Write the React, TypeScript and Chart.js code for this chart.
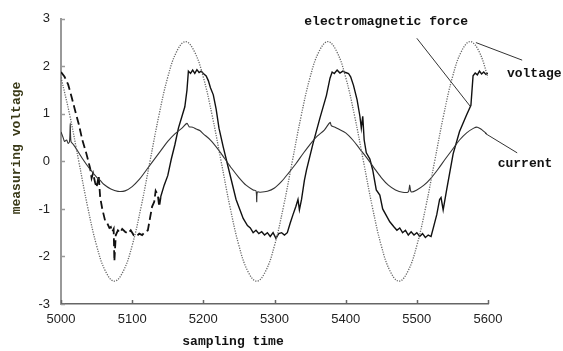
import { useEffect, useRef } from "react";
import { Chart, registerables } from "chart.js";
Chart.register(...registerables);

const xTicks = [5000, 5100, 5200, 5300, 5400, 5500, 5600];
const yTicks = [-3, -2, -1, 0, 1, 2, 3];

const voltageX = [5000, 5012.5, 5025, 5037.5, 5050, 5062.5, 5075, 5087.5, 5100, 5112.5, 5125, 5137.5, 5150, 5162.5, 5175, 5187.5, 5200, 5212.5, 5225, 5237.5, 5250, 5262.5, 5275, 5287.5, 5300, 5312.5, 5325, 5337.5, 5350, 5362.5, 5375, 5387.5, 5400, 5412.5, 5425, 5437.5, 5450, 5462.5, 5475, 5487.5, 5500, 5512.5, 5525, 5537.5, 5550, 5562.5, 5575, 5587.5, 5600];
const voltageY = [1.77, 0.96, 0, -0.96, -1.77, -2.31, -2.52, -2.31, -1.77, -0.96, 0, 0.96, 1.77, 2.31, 2.52, 2.31, 1.77, 0.96, 0, -0.96, -1.77, -2.31, -2.52, -2.31, -1.77, -0.96, 0, 0.96, 1.77, 2.31, 2.52, 2.31, 1.77, 0.96, 0, -0.96, -1.77, -2.31, -2.52, -2.31, -1.77, -0.96, 0, 0.96, 1.77, 2.31, 2.52, 2.31, 1.77];

const currentX = [5000, 5003, 5005, 5008, 5010, 5012, 5013, 5014, 5017, 5020, 5030, 5040, 5050, 5055, 5060, 5070, 5080, 5090, 5100, 5110, 5120, 5130, 5140, 5150, 5160, 5170, 5177, 5180, 5185, 5190, 5195, 5200, 5210, 5220, 5230, 5240, 5250, 5260, 5270, 5274, 5275, 5276, 5280, 5290, 5300, 5310, 5320, 5330, 5340, 5350, 5360, 5370, 5378, 5380, 5385, 5390, 5400, 5410, 5420, 5430, 5440, 5450, 5460, 5470, 5480, 5488, 5490, 5492, 5500, 5510, 5520, 5530, 5540, 5550, 5560, 5570, 5580, 5585, 5590, 5595, 5598];
const currentY = [0.62, 0.50, 0.42, 0.45, 0.38, 0.42, 0.80, 0.42, 0.36, 0.30, 0.06, -0.15, -0.33, -0.40, -0.48, -0.58, -0.63, -0.62, -0.53, -0.38, -0.18, 0.02, 0.22, 0.42, 0.58, 0.70, 0.80, 0.73, 0.72, 0.68, 0.65, 0.58, 0.45, 0.27, 0.06, -0.15, -0.34, -0.50, -0.60, -0.62, -0.85, -0.64, -0.65, -0.63, -0.56, -0.42, -0.24, -0.05, 0.16, 0.36, 0.53, 0.66, 0.82, 0.75, 0.72, 0.68, 0.60, 0.45, 0.26, 0.07, -0.14, -0.34, -0.50, -0.60, -0.65, -0.64, -0.50, -0.64, -0.60, -0.50, -0.35, -0.16, 0.05, 0.25, 0.45, 0.60, 0.70, 0.72, 0.68, 0.62, 0.58];

const emfDashX = [5000, 5005, 5010, 5015, 5020, 5025, 5030, 5035, 5038, 5041, 5043, 5045, 5048, 5050, 5053, 5055, 5058, 5062, 5065, 5068, 5070, 5072, 5074, 5075, 5077, 5080, 5083, 5086, 5090, 5094, 5098, 5102, 5106, 5110, 5114, 5118, 5122, 5125, 5128, 5131, 5133, 5136, 5138, 5140];
const emfDashY = [1.88, 1.78, 1.62, 1.35, 1.06, 0.78, 0.45, 0.20, 0.03, -0.15, -0.35, -0.25, -0.45, -0.55, -0.30, -0.75, -1.00, -1.25, -1.30, -1.40, -1.38, -1.48, -1.42, -2.10, -1.55, -1.45, -1.50, -1.42, -1.48, -1.52, -1.45, -1.55, -1.58, -1.52, -1.55, -1.48, -1.45, -1.20, -0.95, -0.85, -0.62, -0.70, -0.95, -0.75];

const emfX = [5140, 5145, 5150, 5155, 5160, 5165, 5170, 5174, 5177, 5179, 5182, 5185, 5188, 5191, 5194, 5197, 5200, 5204, 5207, 5210, 5214, 5218, 5222, 5228, 5237, 5246, 5256, 5262, 5266, 5270, 5274, 5278, 5282, 5286, 5290, 5294, 5298, 5302, 5306, 5310, 5314, 5318, 5322, 5326, 5330, 5333, 5335, 5338, 5342, 5345, 5354, 5364, 5373, 5378, 5381, 5384, 5388, 5392, 5396, 5400, 5404, 5407, 5411, 5416, 5420, 5422, 5424, 5426, 5429, 5434, 5438, 5443, 5448, 5452, 5462, 5468, 5472, 5476, 5480, 5484, 5488, 5492, 5496, 5500, 5504, 5508, 5512, 5516, 5520, 5524, 5528, 5532, 5534, 5537, 5542, 5551, 5560, 5570, 5576, 5579, 5582, 5585, 5588, 5591, 5594, 5597, 5600];
const emfY = [-0.75, -0.50, -0.30, 0.05, 0.35, 0.70, 0.95, 1.15, 1.50, 1.90, 1.85, 1.92, 1.85, 1.93, 1.87, 1.90, 1.85, 1.80, 1.70, 1.55, 1.40, 1.10, 0.70, 0.30, -0.25, -0.80, -1.20, -1.35, -1.40, -1.50, -1.45, -1.52, -1.48, -1.55, -1.50, -1.58, -1.50, -1.62, -1.52, -1.50, -1.55, -1.50, -1.30, -1.12, -0.95, -0.80, -1.02, -0.80, -0.40, -0.18, 0.37, 0.92, 1.39, 1.75, 1.88, 1.85, 1.92, 1.86, 1.90, 1.87, 1.85, 1.78, 1.60, 1.30, 0.95, 0.70, 0.95, 0.45, 0.18, 0.05, -0.18, -0.60, -0.71, -1.00, -1.27, -1.38, -1.45, -1.40, -1.50, -1.45, -1.55, -1.48, -1.55, -1.50, -1.58, -1.52, -1.60, -1.55, -1.58, -1.35, -1.12, -0.80, -0.76, -1.02, -0.59, 0.16, 0.63, 0.98, 1.18, 1.80, 1.86, 1.82, 1.90, 1.84, 1.88, 1.83, 1.86];

const labelTexts = ["electromagnetic force", "voltage", "current"];
const labelX = [5457, 5665, 5652];
const labelY = [2.94, 1.85, -0.05];
const leaderFromX = [5500, 5583, 5596];
const leaderFromY = [2.59, 2.5, 0.59];
const leaderToX = [5575, 5648, 5641];
const leaderToY = [1.16, 2.13, 0.18];

const xTitle = "sampling time";
const yTitle = "measuring voltage";

const pts = (xs: number[], ys: number[]) => xs.map((x, i) => ({ x, y: ys[i] }));

const MONO = '"Liberation Mono", "DejaVu Sans Mono", monospace';
const SANS = '"Liberation Sans", Arial, sans-serif';

const decor = {
  id: "decor",
  afterDraw(chart: any) {
    const { ctx, chartArea, scales } = chart;
    const sx = scales.x;
    const sy = scales.y;
    ctx.save();
    // inside tick marks
    ctx.lineWidth = 1.5;
    ctx.strokeStyle = "#999";
    yTicks.forEach((v) => {
      const py = Math.round(sy.getPixelForValue(v)) + 0.5;
      ctx.beginPath();
      ctx.moveTo(chartArea.left, py);
      ctx.lineTo(chartArea.left + 4, py);
      ctx.stroke();
    });
    ctx.strokeStyle = "#666";
    xTicks.forEach((v) => {
      const px = Math.round(sx.getPixelForValue(v)) + 0.5;
      ctx.beginPath();
      ctx.moveTo(px, chartArea.bottom);
      ctx.lineTo(px, chartArea.bottom - 4);
      ctx.stroke();
    });
    // axis titles
    ctx.font = "bold 13px " + MONO;
    ctx.textAlign = "center";
    ctx.textBaseline = "middle";
    ctx.fillStyle = "#111";
    ctx.fillText(xTitle, 233, 342);
    ctx.save();
    ctx.translate(17, 148);
    ctx.rotate(-Math.PI / 2);
    ctx.fillStyle = "#3a3a18";
    ctx.fillText(yTitle, 0, 0);
    ctx.restore();
    // annotations
    ctx.strokeStyle = "#333";
    ctx.lineWidth = 1;
    for (let i = 0; i < labelTexts.length; i++) {
      ctx.beginPath();
      ctx.moveTo(sx.getPixelForValue(leaderFromX[i]), sy.getPixelForValue(leaderFromY[i]));
      ctx.lineTo(sx.getPixelForValue(leaderToX[i]), sy.getPixelForValue(leaderToY[i]));
      ctx.stroke();
      ctx.fillStyle = "#111";
      ctx.fillText(labelTexts[i], sx.getPixelForValue(labelX[i]), sy.getPixelForValue(labelY[i]));
    }
    ctx.restore();
  },
};

export default function App() {
  const ref = useRef<HTMLCanvasElement | null>(null);
  useEffect(() => {
    document.body.style.margin = "0";
    const canvas = ref.current!;
    const chart = new Chart(canvas, {
      type: "scatter",
      data: {
        datasets: [
          {
            data: pts(voltageX, voltageY),
            showLine: true,
            borderColor: "#666",
            borderWidth: 1.3,
            borderDash: [1.2, 1.3],
            pointRadius: 0,
            tension: 0.4,
          },
          {
            data: pts(currentX, currentY),
            showLine: true,
            borderColor: "#333",
            borderWidth: 1.1,
            pointRadius: 0,
            tension: 0.3,
          },
          {
            data: pts(emfDashX, emfDashY),
            showLine: true,
            borderColor: "#111",
            borderWidth: 1.8,
            borderDash: [8, 4],
            pointRadius: 0,
            tension: 0,
          },
          {
            data: pts(emfX, emfY),
            showLine: true,
            borderColor: "#111",
            borderWidth: 1.4,
            pointRadius: 0,
            tension: 0,
          },
        ],
      },
      options: {
        responsive: false,
        animation: false,
        devicePixelRatio: 1,
        layout: { padding: { left: 0, top: 13, right: 75, bottom: 0 } },
        plugins: { legend: { display: false }, tooltip: { enabled: false } },
        scales: {
          x: {
            type: "linear",
            min: 5000,
            max: 5600,
            afterBuildTicks: (s: any) => {
              s.ticks = xTicks.map((v) => ({ value: v }));
            },
            afterFit: (s: any) => {
              s.height = 47;
            },
            grid: { display: false, drawTicks: false },
            border: { display: true, color: "#666", width: 1.5 },
            ticks: {
              padding: 8,
              color: "#222",
              font: { family: SANS, size: 13 },
              maxRotation: 0,
              autoSkip: false,
              callback: (v: any) => String(v),
            },
          },
          y: {
            type: "linear",
            min: -3,
            max: 3,
            afterBuildTicks: (s: any) => {
              s.ticks = yTicks.map((v) => ({ value: v }));
            },
            afterFit: (s: any) => {
              s.width = 61;
            },
            grid: { display: false, drawTicks: false },
            border: { display: true, color: "#999", width: 2 },
            ticks: {
              padding: 11,
              color: "#222",
              font: { family: SANS, size: 13 },
              autoSkip: false,
              callback: (v: any) => String(v),
            },
          },
        },
      },
      plugins: [decor],
    } as any);
    return () => chart.destroy();
  }, []);
  return <canvas ref={ref} width={563} height={351} style={{ display: "block" }} />;
}
